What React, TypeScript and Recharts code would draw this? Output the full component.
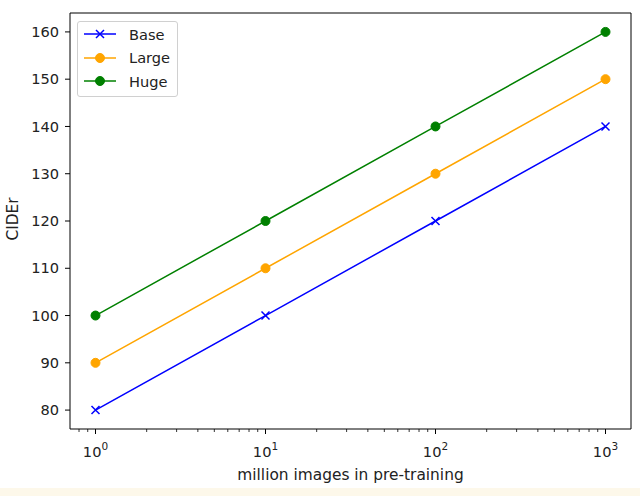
import React from 'react';
import { LineChart, Line, XAxis, YAxis, ReferenceArea } from 'recharts';

const images = [1, 10, 100, 1000];
const baseScores = [80, 100, 120, 140];
const largeScores = [90, 110, 130, 150];
const hugeScores = [100, 120, 140, 160];
const yTicks = [80, 90, 100, 110, 120, 130, 140, 150, 160];
const majorX = [1, 10, 100, 1000];
const minorX = [0.8, 0.9, 2, 3, 4, 5, 6, 7, 8, 9, 20, 30, 40, 50, 60, 70, 80, 90, 200, 300, 400, 500, 600, 700, 800, 900];

const series = [
  { key: 'base', name: 'Base', color: '#0000ff', marker: 'x' },
  { key: 'large', name: 'Large', color: '#ffa500', marker: 'o' },
  { key: 'huge', name: 'Huge', color: '#008000', marker: 'o' },
];

const data = images.map((x, i) => ({
  x,
  base: baseScores[i],
  large: largeScores[i],
  huge: hugeScores[i],
}));

const xMin = Math.pow(10, -0.15);
const xMax = Math.pow(10, 3.15);
const font = 'DejaVu Sans, sans-serif';
const tickFont = 14.6;
const labelFont = 15.4;

function Marker({ cx, cy, color, marker }: any) {
  if (cx == null || cy == null) return <g />;
  if (marker === 'x') {
    const s = 4;
    return (
      <path
        d={`M${cx - s},${cy - s}L${cx + s},${cy + s}M${cx - s},${cy + s}L${cx + s},${cy - s}`}
        stroke={color}
        strokeWidth={1.5}
        fill="none"
      />
    );
  }
  return <circle cx={cx} cy={cy} r={4.5} fill={color} stroke={color} strokeWidth={1} />;
}

function XTick({ x, y, payload }: any) {
  const v = payload.value;
  const isMajor = majorX.includes(v);
  if (!isMajor) {
    return <line x1={x} x2={x} y1={y} y2={y + 3} stroke="#000" strokeWidth={0.8} />;
  }
  const exp = Math.round(Math.log10(v));
  return (
    <g>
      <line x1={x} x2={x} y1={y} y2={y + 5} stroke="#000" strokeWidth={1} />
      <text x={x} y={y + 28} textAnchor="middle" fill="#222" fontSize={tickFont} fontFamily={font}>
        <tspan>10</tspan>
        <tspan dy={-7} fontSize={10.5}>{exp}</tspan>
      </text>
    </g>
  );
}

function LegendBox() {
  return (
    <div
      style={{
        position: 'absolute',
        left: 77,
        top: 21,
        width: 99,
        height: 74,
        border: '1px solid #d0d0d0',
        borderRadius: 3,
        background: 'rgba(255,255,255,0.8)',
        fontFamily: font,
        fontSize: tickFont,
        color: '#222',
      }}
    >
      {series.map((s, i) => (
        <div key={s.key} style={{ position: 'absolute', left: 0, top: 1 + i * 23.5, height: 22, display: 'flex', alignItems: 'center' }}>
          <svg width={50} height={22}>
            <line x1={6} x2={38} y1={11} y2={11} stroke={s.color} strokeWidth={1.5} />
            <Marker cx={22} cy={11} color={s.color} marker={s.marker} />
          </svg>
          <span style={{ marginLeft: 1 }}>{s.name}</span>
        </div>
      ))}
    </div>
  );
}

export default function App() {
  return (
    <div style={{ position: 'absolute', left: 0, top: 0, width: 640, height: 496, background: '#fff' }}>
      <LineChart width={640} height={488} data={data} margin={{ top: 13, right: 9, left: 0, bottom: 0 }}>
        <XAxis
          dataKey="x"
          type="number"
          scale="log"
          domain={[xMin, xMax]}
          allowDataOverflow
          ticks={[...minorX, ...majorX].sort((a, b) => a - b)}
          interval={0}
          tick={<XTick />}
          tickLine={false}
          tickSize={0}
          tickMargin={0}
          axisLine={false}
          height={59}
          label={{ value: 'million images in pre-training', position: 'insideBottom', offset: 8, fill: '#222', fontSize: labelFont, fontFamily: font }}
        />
        <YAxis
          type="number"
          domain={[76, 164]}
          ticks={yTicks}
          interval={0}
          width={70}
          axisLine={false}
          tickSize={5}
          tickMargin={6}
          tickLine={{ stroke: '#000' }}
          tick={{ fill: '#222', fontSize: tickFont, fontFamily: font }}
          label={({ viewBox }: any) => (
            <text
              x={13}
              y={viewBox.y + viewBox.height / 2 - 2}
              transform={`rotate(-90, 13, ${viewBox.y + viewBox.height / 2 - 2})`}
              textAnchor="middle"
              dominantBaseline="central"
              fill="#222"
              fontSize={labelFont}
              fontFamily={font}
            >
              CIDEr
            </text>
          )}
        />
        <ReferenceArea x1={xMin} x2={xMax} y1={76} y2={164} fill="none" stroke="#000" strokeWidth={1} ifOverflow="visible" />
        {series.map((s) => (
          <Line
            key={s.key}
            dataKey={s.key}
            name={s.name}
            stroke={s.color}
            strokeWidth={1.5}
            isAnimationActive={false}
            dot={(p: any) => <Marker key={`${s.key}-${p.index}`} cx={p.cx} cy={p.cy} color={s.color} marker={s.marker} />}
            activeDot={false}
          />
        ))}
      </LineChart>
      <LegendBox />
      <div style={{ position: 'absolute', left: 0, top: 488, width: 640, height: 8, background: '#fdf8ea' }} />
    </div>
  );
}
